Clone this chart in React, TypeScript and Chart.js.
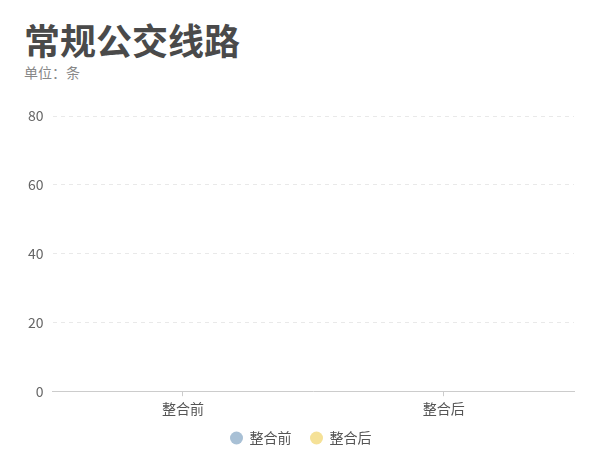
import { useEffect, useRef } from "react";
import { Chart, registerables } from "chart.js";

Chart.register(...registerables);

const TITLE = "常规公交线路";
const SUBTITLE = "单位：条";
const categories = ["整合前", "整合后"];
const seriesNames = ["整合前", "整合后"];
// nothing is drawn in the reference, the bars sit at zero
const beforeValues = [0, 0];
const afterValues = [0, 0];
const yMax = 80;
const yStep = 20;

const FONT = "'Noto Sans CJK SC', 'Noto Sans', sans-serif";

// legend dot, drawn a bit right of centre so the gap to the text is tighter
const makeDot = (color: string) => {
   const c = document.createElement("canvas");
   c.width = 22;
   c.height = 14;
   const g = c.getContext("2d");
   if (g) {
      g.fillStyle = color;
      g.beginPath();
      g.arc(15.5, 7, 6.5, 0, Math.PI * 2);
      g.fill();
   }
   return c;
};

const App = () => {
   const canvasRef = useRef<HTMLCanvasElement>(null);

   useEffect(() => {
      if (!canvasRef.current) return;
      const ctx = canvasRef.current.getContext("2d");
      if (!ctx) return;

      const chart = new Chart(ctx, {
         type: "bar",
         data: {
            labels: categories,
            datasets: [
               {
                  label: seriesNames[0],
                  data: beforeValues,
                  backgroundColor: "#a8c0d5",
                  borderWidth: 0,
                  pointStyle: makeDot("#a8c0d5"),
               },
               {
                  label: seriesNames[1],
                  data: afterValues,
                  backgroundColor: "#f5e197",
                  borderWidth: 0,
                  pointStyle: makeDot("#f5e197"),
               },
            ],
         },
         options: {
            responsive: false,
            animation: false,
            layout: {
               padding: { top: 116, left: 19, right: 26, bottom: 15 },
            },
            plugins: {
               legend: {
                  position: "bottom",
                  labels: {
                     usePointStyle: true,
                     pointStyleWidth: 21,
                     padding: 10,
                     color: "#555",
                     font: { family: FONT, size: 14 },
                  },
               },
               tooltip: { enabled: false },
            },
            scales: {
               x: {
                  grid: {
                     offset: false,
                     drawOnChartArea: false,
                     drawTicks: true,
                     tickLength: 5,
                     color: "#ccc",
                  },
                  border: { color: "#ccc" },
                  ticks: {
                     color: "#555",
                     padding: 4,
                     font: { family: FONT, size: 14 },
                  },
               },
               y: {
                  min: 0,
                  max: yMax,
                  grid: {
                     color: "#e9e9e9",
                     drawTicks: false,
                  },
                  border: { display: false, dash: [4, 4] },
                  ticks: {
                     stepSize: yStep,
                     color: "#666",
                     padding: 9,
                     font: { family: FONT, size: 14 },
                  },
               },
            },
         },
      });

      return () => {
         chart.destroy();
      };
   }, []);

   return (
      <div style={{ position: "fixed", left: 0, top: 0, width: 600, height: 470, background: "#fff" }}>
         <div
            style={{
               position: "absolute",
               left: 24,
               top: 16,
               fontFamily: FONT,
               fontSize: 36,
               fontWeight: "bold",
               color: "#4a4a4a",
               lineHeight: "46px",
            }}
         >
            {TITLE}
         </div>
         <div
            style={{
               position: "absolute",
               left: 24,
               top: 62,
               fontFamily: FONT,
               fontSize: 14,
               color: "#888",
               lineHeight: "20px",
            }}
         >
            {SUBTITLE}
         </div>
         <canvas ref={canvasRef} width={600} height={470} style={{ position: "absolute", left: 0, top: 0 }} />
      </div>
   );
};

export default App;
